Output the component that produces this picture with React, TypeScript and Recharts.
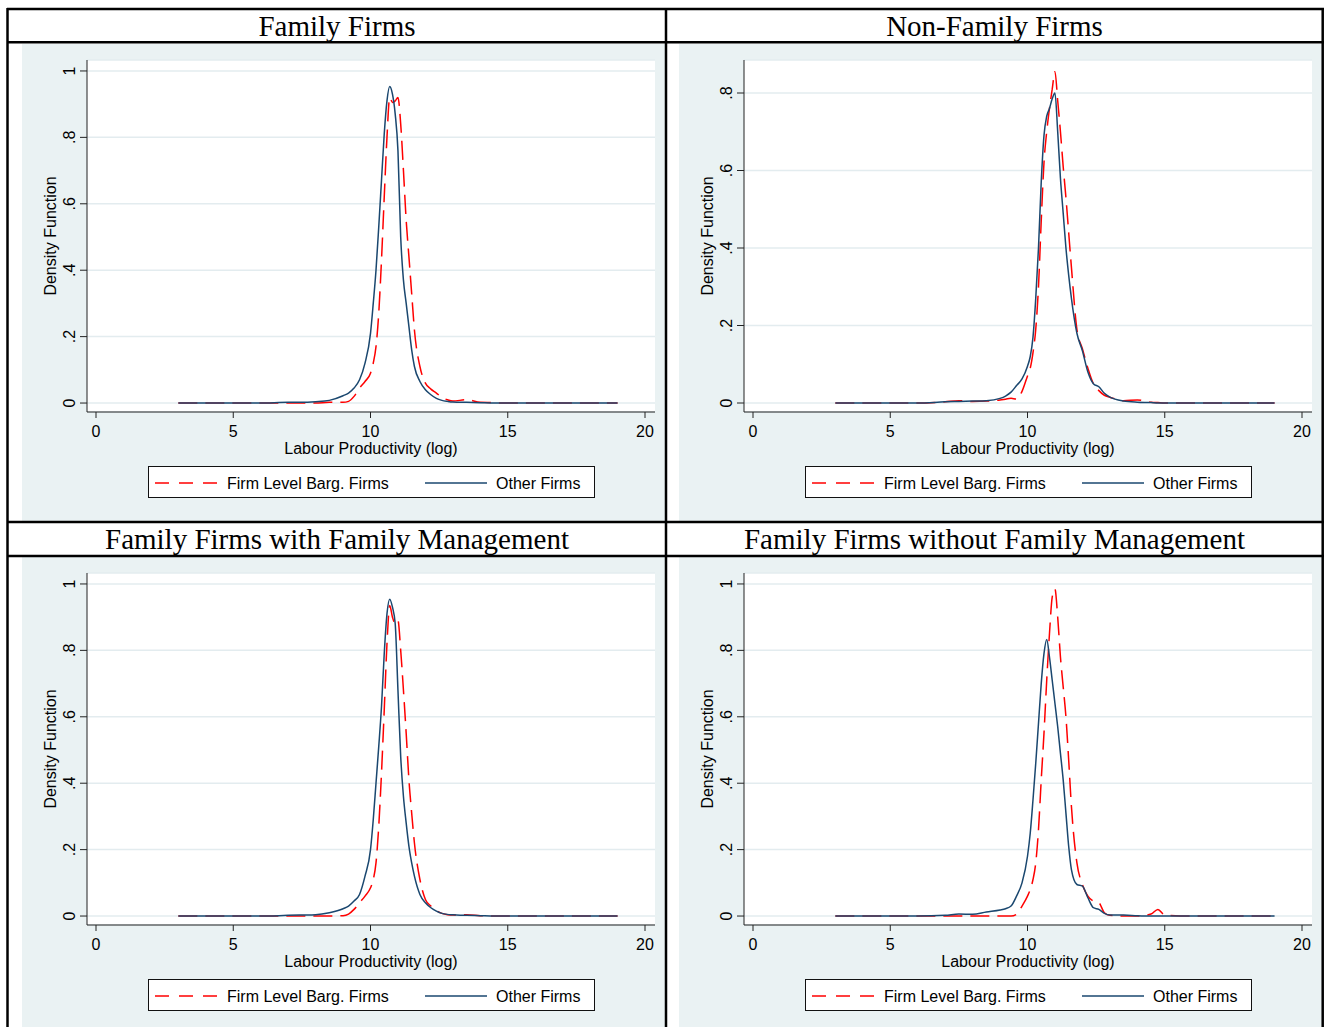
import { CartesianGrid, Line, LineChart, XAxis, YAxis } from "recharts";

// log labour productivity grid (x) shared by every density curve
const grid = [
  3, 4, 5, 6, 7, 7.5, 8, 8.5, 9, 9.2, 9.4, 9.6, 9.8,
  10, 10.1, 10.2, 10.3, 10.4, 10.5, 10.6, 10.7, 10.8, 10.9, 11, 11.1, 11.2, 11.3, 11.4, 11.5, 11.6,
  11.8, 12, 12.2, 12.4, 12.6, 12.8, 13, 13.5, 14, 14.5, 14.75, 15, 16, 17, 18, 19,
];

// Family Firms
const famFirm = [
  0, 0, 0, 0, 0, 0, 0, 0.002, 0.002, 0.005, 0.02, 0.045, 0.065,
  0.09, 0.12, 0.17, 0.27, 0.43, 0.62, 0.8, 0.92, 0.905, 0.91, 0.92, 0.84, 0.7, 0.55, 0.44, 0.33, 0.22,
  0.11, 0.06, 0.042, 0.03, 0.017, 0.01, 0.006, 0.01, 0.002, 0.001, 0, 0, 0, 0, 0, 0,
];
const famOther = [
  0, 0, 0, 0, 0.002, 0.002, 0.004, 0.008, 0.022, 0.03, 0.045, 0.07, 0.12,
  0.21, 0.3, 0.4, 0.53, 0.67, 0.81, 0.91, 0.953, 0.93, 0.87, 0.76, 0.5, 0.37, 0.3, 0.23, 0.16, 0.11,
  0.065, 0.04, 0.025, 0.014, 0.008, 0.005, 0.003, 0.002, 0.001, 0, 0, 0, 0, 0, 0, 0,
];

// Non-Family Firms
const nonFirm = [
  0, 0, 0, 0, 0.003, 0.006, 0.004, 0.005, 0.008, 0.01, 0.012, 0.01, 0.03,
  0.07, 0.09, 0.13, 0.19, 0.3, 0.47, 0.62, 0.7, 0.76, 0.81, 0.855, 0.78, 0.7, 0.61, 0.53, 0.44, 0.35,
  0.19, 0.14, 0.09, 0.05, 0.032, 0.02, 0.015, 0.006, 0.008, 0.002, 0.001, 0, 0, 0, 0, 0,
];
const nonOther = [
  0, 0, 0, 0, 0.003, 0.004, 0.005, 0.006, 0.012, 0.018, 0.028, 0.045, 0.062,
  0.095, 0.12, 0.17, 0.27, 0.4, 0.57, 0.69, 0.74, 0.76, 0.785, 0.8, 0.7, 0.58, 0.49, 0.4, 0.33, 0.27,
  0.18, 0.135, 0.08, 0.05, 0.042, 0.025, 0.015, 0.005, 0.002, 0.001, 0, 0, 0, 0, 0, 0,
];

// Family Firms with Family Management
const mgmtFirm = [
  0, 0, 0, 0, 0, 0, 0, 0, 0.001, 0.006, 0.02, 0.04, 0.06,
  0.085, 0.11, 0.16, 0.27, 0.43, 0.62, 0.82, 0.935, 0.9, 0.88, 0.89, 0.8, 0.68, 0.55, 0.41, 0.31, 0.22,
  0.11, 0.05, 0.03, 0.016, 0.008, 0.004, 0.003, 0.004, 0.001, 0, 0, 0, 0, 0, 0, 0,
];
const mgmtOther = [
  0, 0, 0, 0, 0.002, 0.003, 0.004, 0.01, 0.022, 0.03, 0.045, 0.065, 0.12,
  0.2, 0.29, 0.4, 0.51, 0.63, 0.79, 0.91, 0.954, 0.93, 0.88, 0.68, 0.48, 0.36, 0.28, 0.21, 0.16, 0.12,
  0.065, 0.04, 0.025, 0.015, 0.008, 0.005, 0.004, 0.002, 0.001, 0, 0, 0, 0, 0, 0, 0,
];

// Family Firms without Family Management
const noMgmtFirm = [
  0, 0, 0, 0, 0, 0, 0, 0, 0, 0, 0, 0.005, 0.03,
  0.06, 0.08, 0.11, 0.16, 0.26, 0.41, 0.55, 0.71, 0.85, 0.96, 0.985, 0.9, 0.78, 0.69, 0.6, 0.47, 0.33,
  0.16, 0.095, 0.06, 0.045, 0.04, 0.01, 0.002, 0, 0, 0.006, 0.02, 0.003, 0, 0, 0, 0,
];
const noMgmtOther = [
  0, 0, 0, 0, 0.002, 0.006, 0.005, 0.012, 0.018, 0.022, 0.03, 0.06, 0.1,
  0.18, 0.25, 0.35, 0.46, 0.58, 0.7, 0.79, 0.833, 0.78, 0.71, 0.64, 0.57, 0.49, 0.41, 0.31, 0.21, 0.14,
  0.095, 0.09, 0.055, 0.025, 0.02, 0.008, 0.003, 0.003, 0.001, 0, 0, 0, 0, 0, 0, 0,
];

const titles = [
  "Family Firms",
  "Non-Family Firms",
  "Family Firms with Family Management",
  "Family Firms without Family Management",
];
const xTicks = [0, 5, 10, 15, 20];
const yTicksFull = [0, 0.2, 0.4, 0.6, 0.8, 1];
const yTicksShort = [0, 0.2, 0.4, 0.6, 0.8];
const seriesNames = ["Firm Level Barg. Firms", "Other Firms"];

const NAVY = "#1a476f";
const RED = "#ff0000";
const BG = "#eaf2f3";
const SANS = "'Liberation Sans', Arial, Helvetica, sans-serif";
const SERIF = "'Liberation Serif', 'Times New Roman', serif";
const DASH = "19 8";

const fmt = (v: number) => (v === 0 ? "0" : v === 1 ? "1" : String(v).replace(/^0/, ""));

const toRows = (firm: number[], other: number[]) =>
  grid.map((x, i) => ({ x, firm: firm[i], other: other[i] }));

const panels = [
  { title: titles[0], rows: toRows(famFirm, famOther), yDomain: [-0.027, 1.033], yTicks: yTicksFull },
  { title: titles[1], rows: toRows(nonFirm, nonOther), yDomain: [-0.0232, 0.8852], yTicks: yTicksShort },
  { title: titles[2], rows: toRows(mgmtFirm, mgmtOther), yDomain: [-0.027, 1.033], yTicks: yTicksFull },
  { title: titles[3], rows: toRows(noMgmtFirm, noMgmtOther), yDomain: [-0.027, 1.033], yTicks: yTicksFull },
];

const YTick = ({ x, y, payload }: any) => (
  <text
    x={x}
    y={y}
    transform={`rotate(-90 ${x} ${y})`}
    textAnchor="middle"
    dominantBaseline="central"
    fontSize={16}
    fontFamily={SANS}
    fill="#000"
  >
    {fmt(payload.value)}
  </text>
);

const YLabel = ({ viewBox }: any) => {
  const cx = viewBox.x + 28;
  const cy = viewBox.y + viewBox.height / 2;
  return (
    <text x={cx} y={cy} transform={`rotate(-90 ${cx} ${cy})`} textAnchor="middle" dominantBaseline="central" fontSize={16} fontFamily={SANS} fill="#000">
      Density Function
    </text>
  );
};

const XLabel = ({ viewBox }: any) => (
  <text x={viewBox.x + viewBox.width / 2} y={viewBox.y + 41.5} textAnchor="middle" fontSize={16} fontFamily={SANS} fill="#000">
    Labour Productivity (log)
  </text>
);

const LegendBox = () => (
  <div
    style={{
      position: "absolute",
      left: 126,
      top: 422,
      width: 447,
      height: 32,
      boxSizing: "border-box",
      border: "1.5px solid #111",
      background: "#fff",
    }}
  >
    <svg width={447} height={32} style={{ position: "absolute", left: -1.5, top: -1.5 }}>
      <line x1={7} x2={69} y1={17} y2={17} stroke={RED} strokeWidth={1.5} strokeDasharray="14 10" />
      <text x={79} y={22.5} fontSize={16} fontFamily={SANS} fill="#000">{seriesNames[0]}</text>
      <line x1={277} x2={339} y1={17} y2={17} stroke={NAVY} strokeWidth={1.5} />
      <text x={348} y={22.5} fontSize={16} fontFamily={SANS} fill="#000">{seriesNames[1]}</text>
    </svg>
  </div>
);

const Panel = ({ p, left, top }: any) => (
  <div style={{ position: "absolute", left, top, width: 643, height: 477, background: BG }}>
    <LineChart width={643} height={477} data={p.rows} margin={{ top: 16, right: 10, left: 0, bottom: 0 }}>
      <CartesianGrid vertical={false} stroke="#e3ecef" strokeWidth={1.5} fill="#fff" />
      <XAxis
        dataKey="x"
        type="number"
        domain={[-0.328, 20.364]}
        ticks={xTicks}
        height={109}
        tickSize={6}
        tickMargin={8}
        tick={{ fontSize: 16, fontFamily: SANS, fill: "#000" }}
        stroke="#222"
        label={<XLabel />}
        allowDataOverflow
      />
      <YAxis
        type="number"
        domain={p.yDomain}
        ticks={p.yTicks}
        width={65}
        tickSize={7}
        tickMargin={10}
        tick={<YTick />}
        stroke="#222"
        label={<YLabel />}
        allowDataOverflow
      />
      <Line dataKey="firm" type="monotone" stroke={RED} strokeWidth={1.5} strokeDasharray={DASH} dot={false} isAnimationActive={false} />
      <Line dataKey="other" type="monotone" stroke={NAVY} strokeWidth={1.5} dot={false} isAnimationActive={false} />
    </LineChart>
    <LegendBox />
  </div>
);

export default function App() {
  const spots = [
    { left: 22, top: 44 },
    { left: 679, top: 44 },
    { left: 22, top: 557 },
    { left: 679, top: 557 },
  ];
  const centers = [337, 994.5];
  return (
    <div style={{ position: "absolute", left: 0, top: 0, width: 1325, height: 1027, overflow: "hidden", background: "#fff" }}>
      {panels.map((p, i) => (
        <Panel key={i} p={p} left={spots[i].left} top={spots[i].top} />
      ))}
      <svg width={1325} height={1027} style={{ position: "absolute", left: 0, top: 0, pointerEvents: "none" }}>
        <g stroke="#000" strokeWidth={2.5}>
          <line x1={7} x2={1324} y1={9} y2={9} />
          <line x1={7} x2={1324} y1={42.3} y2={42.3} />
          <line x1={7} x2={1324} y1={522} y2={522} />
          <line x1={7} x2={1324} y1={556} y2={556} />
          <line x1={7.5} x2={7.5} y1={8} y2={1027} />
          <line x1={666} x2={666} y1={8} y2={1027} />
          <line x1={1322.7} x2={1322.7} y1={8} y2={1027} />
        </g>
        {panels.map((p, i) => (
          <text
            key={i}
            x={centers[i % 2]}
            y={i < 2 ? 35.5 : 548.5}
            textAnchor="middle"
            fontSize={29}
            fontFamily={SERIF}
            fill="#000"
          >
            {p.title}
          </text>
        ))}
      </svg>
    </div>
  );
}
